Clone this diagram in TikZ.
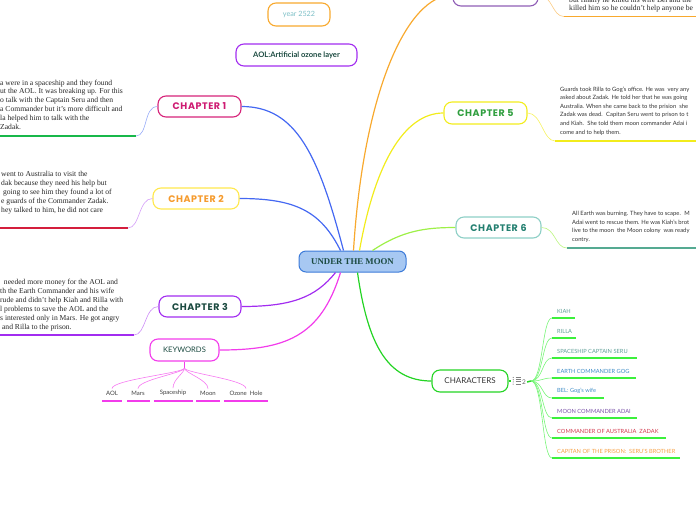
\documentclass[tikz,border=0pt]{standalone}
\usepackage{fontspec}
\setmainfont{Liberation Serif}
\setsansfont{Lato}
\newfontfamily\chapfont[LetterSpace=6]{Poppins}
\usetikzlibrary{positioning}
\definecolor{rootfill}{HTML}{A7C8F2}
\definecolor{rootdraw}{HTML}{3C7BD9}
\definecolor{darkgr}{HTML}{1B4A40}
\definecolor{bluex}{HTML}{4468F2}
\definecolor{orangex}{HTML}{F8A92E}
\definecolor{yellowx}{HTML}{F2EC1C}
\definecolor{limex}{HTML}{9EF048}
\definecolor{greenx}{HTML}{24D424}
\definecolor{magx}{HTML}{F23CEB}
\definecolor{purpx}{HTML}{A22CF0}
\definecolor{chonedraw}{HTML}{D6247A}
\definecolor{chonetext}{HTML}{CE1B72}
\definecolor{chtwodraw}{HTML}{FFE84D}
\definecolor{chtwotext}{HTML}{F59A2C}
\definecolor{chfourdraw}{HTML}{8F5DB5}
\definecolor{chfivetext}{HTML}{2F9E3E}
\definecolor{chsixdraw}{HTML}{8ECFC6}
\definecolor{chsixtext}{HTML}{237F70}
\definecolor{chsixul}{HTML}{55AA92}
\definecolor{yeartext}{HTML}{7CBFC6}
\definecolor{kiahc}{HTML}{5E9E96}
\definecolor{earthc}{HTML}{3E8CC6}
\definecolor{moonc}{HTML}{7A52A8}
\definecolor{zadc}{HTML}{D33A4E}
\definecolor{capc}{HTML}{F6A045}
\definecolor{ulgreen}{HTML}{18B84A}
\definecolor{ulred}{HTML}{D41E3C}
\definecolor{charul}{HTML}{3CF03C}
\tikzset{
  rootbox/.style={draw=rootdraw,fill=rootfill,line width=1pt,rounded corners=7pt,
    minimum width=107pt,minimum height=21pt,inner sep=0pt,text=darkgr,
    font=\bfseries\fontsize{8.8}{9}\selectfont},
  topic/.style={draw,line width=1.1pt,rounded corners=8pt,minimum height=21pt,
    inner sep=0pt,font=\chapfont\bfseries\fontsize{9.5}{10}\selectfont},
  plain/.style={draw,line width=1.1pt,rounded corners=8pt,minimum height=22pt,
    inner sep=0pt,text=darkgr,font=\sffamily\fontsize{7.6}{8}\selectfont},
  story/.style={anchor=north west,inner sep=0pt,align=left,text=black!85,
    font=\fontsize{7.6}{8.9}\selectfont},
  note/.style={anchor=north west,inner sep=0pt,align=left,text=black!80,
    font=\sffamily\fontsize{5.85}{8.6}\selectfont},
  mainline/.style={line width=1.2pt},
  subline/.style={line width=0.6pt},
  ulline/.style={line width=1.5pt},
  kwlabel/.style={inner sep=2pt,text=black!75,font=\sffamily\fontsize{6}{7}\selectfont},
  charlabel/.style={anchor=west,inner sep=0pt,font=\sffamily\fontsize{5.7}{7}\selectfont}
}
\begin{document}
\begin{tikzpicture}[x=1pt,y=-1pt]
\useasboundingbox (0,0) rectangle (696,520);
\clip (0,0) rectangle (696,520);

% central topic
\node[rootbox] (root) at (352.5,261.5) {UNDER THE MOON};

% floating topics
\node[plain,draw=orangex,text=yeartext,minimum width=62pt,minimum height=23pt,
  font=\sffamily\fontsize{7.2}{8}\selectfont] (year) at (299,14.5) {year 2522};
\node[plain,draw=purpx,minimum width=121pt] (aol) at (296.5,55)
  {\bfseries AOL:Artificial ozone layer};

% chapters
\node[topic,draw=chonedraw,text=chonetext,minimum width=83pt] (ch1) at (199.5,106.5) {CHAPTER 1};
\node[topic,draw=chtwodraw,text=chtwotext,minimum width=86pt] (ch2) at (196,198.5) {CHAPTER 2};
\node[topic,draw=purpx,text=darkgr,minimum width=82pt] (ch3) at (200,306.5) {CHAPTER 3};
\node[topic,draw=chfourdraw,minimum width=85pt,minimum height=22pt] (ch4) at (495.5,-5) {};
\node[topic,draw=yellowx,text=chfivetext,minimum width=83pt,minimum height=22pt] (ch5) at (485.5,113) {CHAPTER 5};
\node[topic,draw=chsixdraw,text=chsixtext,minimum width=85pt] (ch6) at (498.5,227.5) {CHAPTER 6};
\node[plain,draw=magx,minimum width=69pt] (keyw) at (184.5,350) {KEYWORDS};
\node[plain,draw=greenx,text=black!80,minimum width=76pt,
  font=\sffamily\fontsize{8}{9}\selectfont] (chars) at (470,381) {CHARACTERS};

% branches from the root
\draw[mainline,bluex] ([xshift=-9pt]root.north) .. controls +(-25,-95) and +(55,0) .. (ch1.east);
\draw[mainline,bluex] ([xshift=-12pt]root.north) .. controls +(-20,-40) and +(55,0) .. (ch2.east);
\draw[mainline,orangex] ([xshift=1pt]root.north) .. controls +(10,-160) and +(-45,0) .. (ch4.west);
\draw[mainline,yellowx] ([xshift=7pt]root.north) .. controls +(15,-85) and +(-40,0) .. (ch5.west);
\draw[mainline,limex] ([xshift=20pt]root.north) .. controls +(30,-20) and +(-30,0) .. (ch6.west);
\draw[mainline,purpx] ([xshift=-17pt]root.south) .. controls +(-20,25) and +(50,0) .. (ch3.east);
\draw[mainline,magx] ([xshift=-12pt]root.south) .. controls +(-20,65) and +(65,0) .. (keyw.east);
\draw[mainline,greenx] ([xshift=5pt]root.south) .. controls +(10,70) and +(-45,0) .. (chars.west);

% chapter 1
\node[story] (ch1txt) at (0,79.5) {a were in a spaceship and they found\\ut the AOL. It was breaking up. For this\\o talk with the Captain Seru and then\\a Commander but it's more difficult and\\la helped him to talk with the\\Zadak.};
\coordinate (ch1ul) at (136,136);
\coordinate (ch1end) at (-2,136);
\draw[subline,bluex!55] (ch1.west) .. controls +(-14,0) and +(12,0) .. (ch1ul);
\draw[ulline,ulgreen] (ch1ul) -- (ch1end);

% chapter 2
\node[story] (ch2txt) at (1,171) {went to Australia to visit the\\dak because they need his help but\\\ going to see him they found a lot of\\e guards of the Commander Zadak.\\hey talked to him, he did not care};
\coordinate (ch2ul) at (128,228);
\coordinate (ch2end) at (-2,228);
\draw[subline,purpx!45] (ch2.west) .. controls +(-14,0) and +(12,0) .. (ch2ul);
\draw[ulline,ulred] (ch2ul) -- (ch2end);

% chapter 3
\node[story] (ch3txt) at (0,279) {\ \ needed more money for the AOL and\\th the Earth Commander and his wife\\rude and didn't help Kiah and Rilla with\\l problems to save the AOL and the\\s interested only in Mars. He got angry\\\ and Rilla to the prison.};
\coordinate (ch3ul) at (134,335);
\coordinate (ch3end) at (-2,335);
\draw[subline,purpx!55] (ch3.west) .. controls +(-14,0) and +(12,0) .. (ch3ul);
\draw[ulline,purpx] (ch3ul) -- (ch3end);

% chapter 4
\node[story] (ch4txt) at (569,-3.5) {but finally he killed his wife Bel and the\\killed him so he couldn't help anyone be};
\coordinate (ch4ul) at (564,16.5);
\coordinate (ch4end) at (700,16.5);
\draw[subline,orangex!60] (ch4.east) .. controls +(14,0) and +(-12,0) .. (ch4ul);
\draw[ulline,orangex] (ch4ul) -- (ch4end);

% chapter 5
\node[note] (ch5txt) at (560,86.5) {Guards took Rilla to Gog's office. He was \ very any\\asked about Zadak. He told her that he was going\\Australia. When she came back to the prision \ she\\Zadak was dead. \ Capitan Seru went to prison to t\\and Kiah. \ She told them moon commander Adai i\\come and to help them.};
\coordinate (ch5ul) at (555,141);
\coordinate (ch5end) at (700,141);
\draw[subline,yellowx!70] (ch5.east) .. controls +(14,0) and +(-12,0) .. (ch5ul);
\draw[ulline,yellowx] (ch5ul) -- (ch5end);

% chapter 6
\node[note] (ch6txt) at (572,211) {All Earth was burning. They have to scape. \ M\\Adai went to rescue them. He was Kiah's brot\\live to the moon \ the Moon colony \ was ready\\contry.};
\coordinate (ch6ul) at (567,248);
\coordinate (ch6end) at (700,248);
\draw[subline,limex!70] (ch6.east) .. controls +(14,0) and +(-12,0) .. (ch6ul);
\draw[ulline,chsixul] (ch6ul) -- (ch6end);

% keywords
\coordinate (kwstem) at (184.5,368);
\draw[ulline,magx] (keyw.south) -- (kwstem);
\foreach \nm/\xx/\ua/\ub/\txt in {kwa/112/102/122/AOL, kwb/138/127/150/Mars,
    kwc/173/154/193/Spaceship, kwd/208/196/220/Moon, kwe/246/224/268/Ozone\ \ Hole}{
  \node[kwlabel] (\nm) at (\xx,393) {\txt};
  \draw[subline,magx!70] (kwstem) .. controls +(0,5) and +(0,-9) .. (\nm.north);
  \draw[ulline,magx] (\ua,401) -- (\ub,401);
}

% characters
\coordinate (chicon) at (511,381);
\coordinate (chstem) at (531,381);
\draw[ulline,greenx] (chars.east) -- (chicon);
\foreach \k in {0,2.2,4.4,6.6}{
  \draw[gray,line width=0.9pt] (515.5,377.5+\k) -- (520.5,377.5+\k);
  \fill[gray] (513.2,377.5+\k) circle (0.6pt);
}
\node[inner sep=0pt,text=gray!80!black,font=\sffamily\fontsize{6.5}{7}\selectfont] (chcount) at (524,382) {2};
\draw[ulline,greenx] (chcount.east) ++(1pt,0) -- (chstem);
\foreach \yy/\ex/\col/\txt in {311/575/kiahc/KIAH, 331/576/kiahc/RILLA,
    351/637/kiahc/SPACESHIP CAPTAIN SERU, 371/636/earthc/EARTH COMMANDER GOG,
    391/604/earthc/BEL: Gog's wife, 411/637/moonc/MOON COMMANDER ADAI,
    431/666/zadc/COMMANDER OF AUSTRALIA \ ZADAK,
    451/680/capc/CAPITAN OF THE PRISON: \ SERU'S BROTHER}{
  \node[charlabel,text=\col] (chr\yy) at (557,\yy) {\txt};
  \coordinate (chu\yy) at (552,\yy+7);
  \draw[subline,charul!70] (chstem) .. controls +(12,0) and +(-10,0) .. (chu\yy);
  \draw[ulline,charul] (chu\yy) -- (\ex,\yy+7);
}
\end{tikzpicture}
\end{document}
